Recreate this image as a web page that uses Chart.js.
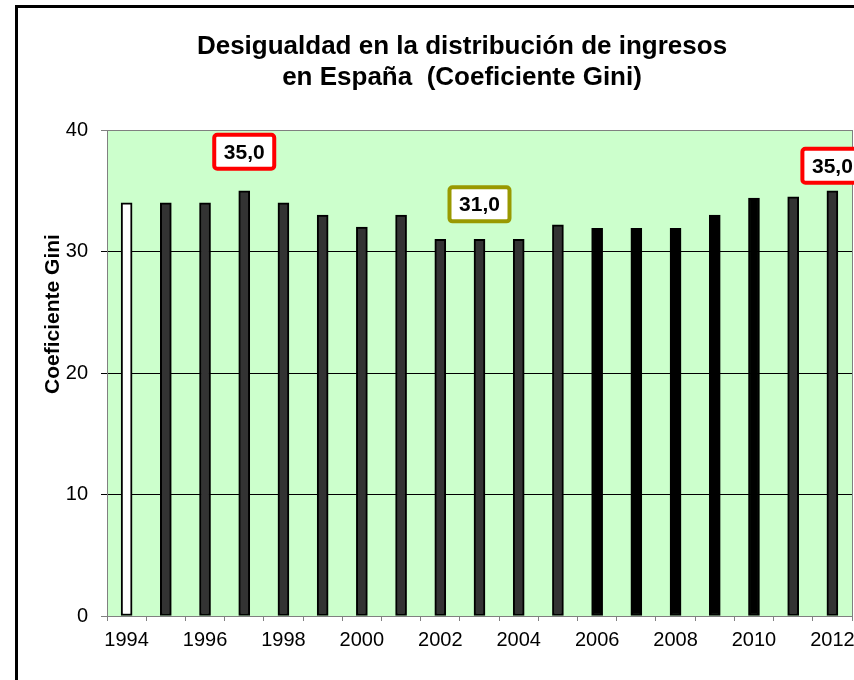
<!DOCTYPE html>
<html>
<head>
<meta charset="utf-8">
<script src="https://cdn.jsdelivr.net/npm/chart.js@4.4.1/dist/chart.umd.min.js"></script>
<style>
    html, body { margin: 0; padding: 0; background: #fff; overflow: hidden; }
    #box { width: 854px; height: 680px; }
</style>
</head>
<body>
<div id="box"><canvas id="giniChart" width="854" height="680"></canvas></div>
<script>
const years = ["1994", "1995", "1996", "1997", "1998", "1999", "2000", "2001", "2002", "2003",
    "2004", "2005", "2006", "2007", "2008", "2009", "2010", "2011", "2012"];
const giniValues = [34.0, 34.0, 34.0, 35.0, 34.0, 33.0, 32.0, 33.0, 31.0, 31.0,
    31.0, 32.2, 31.9, 31.9, 31.9, 33.0, 34.4, 34.5, 35.0];
const yTicks = [0, 10, 20, 30, 40];
const titleLines = ["Desigualdad en la distribución de ingresos", "en España  (Coeficiente Gini)"];
const yTitle = "Coeficiente Gini";

// highlighted values: year, text, border colour, how far above the bar top (px)
const callouts = [
    {year: "1997", text: "35,0", color: "#ff0000", lift: 39},
    {year: "2003", text: "31,0", color: "#999900", lift: 35},
    {year: "2012", text: "35,0", color: "#ff0000", lift: 25},
];

const FONT = "Arial, 'Liberation Sans', sans-serif";

function barColor(year) {
    const y = parseInt(year);
    if (y === 1994) return "#ffffff";
    if (y >= 2006 && y <= 2010) return "#000000";
    return "#333333";
}

const decorations = {
    id: "decorations",
    beforeDraw(chart) {
        const ctx = chart.ctx;
        const area = chart.chartArea;
        ctx.save();
        ctx.fillStyle = "#ccffcc";
        ctx.fillRect(area.left, area.top, area.right - area.left, area.bottom - area.top);
        ctx.restore();
    },
    afterDraw(chart) {
        const ctx = chart.ctx;
        const area = chart.chartArea;
        const x = chart.scales.x;
        const y = chart.scales.y;
        ctx.save();

        // right edge of plot
        ctx.strokeStyle = "#808080";
        ctx.lineWidth = 1;
        ctx.beginPath();
        ctx.moveTo(area.right + 0.5, area.top);
        ctx.lineTo(area.right + 0.5, area.bottom);
        ctx.stroke();

        // outer frame
        ctx.strokeStyle = "#000";
        ctx.lineWidth = 3;
        ctx.strokeRect(16.5, 6.5, 1000, 1000);

        // title
        ctx.fillStyle = "#000";
        ctx.font = "bold 26px " + FONT;
        ctx.textAlign = "center";
        ctx.textBaseline = "alphabetic";
        ctx.fillText(titleLines[0], 462, 54);
        ctx.fillText(titleLines[1], 462, 85);

        // y axis title
        ctx.save();
        ctx.translate(53, 314);
        ctx.rotate(-Math.PI / 2);
        ctx.font = "bold 21px " + FONT;
        ctx.textBaseline = "middle";
        ctx.fillText(yTitle, 0, 0);
        ctx.restore();

        // value boxes
        callouts.forEach(c => {
            const i = years.indexOf(c.year);
            const cx = x.getPixelForValue(i);
            const cy = y.getPixelForValue(giniValues[i]) - c.lift;
            const w = 60, h = 34;
            ctx.beginPath();
            ctx.roundRect(cx - w / 2, cy - h / 2, w, h, 3);
            ctx.fillStyle = "#fff";
            ctx.fill();
            ctx.strokeStyle = c.color;
            ctx.lineWidth = 4;
            ctx.stroke();
            ctx.fillStyle = "#000";
            ctx.font = "bold 21px " + FONT;
            ctx.textAlign = "center";
            ctx.textBaseline = "middle";
            ctx.fillText(c.text, cx, cy + 1);
        });
        ctx.restore();
    }
};

new Chart(document.getElementById("giniChart").getContext("2d"), {
    type: "bar",
    data: {
        labels: years,
        datasets: [
            {
                data: giniValues,
                backgroundColor: years.map(barColor),
                borderColor: "#000",
                borderWidth: 2,
                borderSkipped: false,
                barThickness: 11,
            },
        ],
    },
    options: {
        responsive: false,
        animation: false,
        layout: {padding: {top: 130, right: 2, left: 0, bottom: 0}},
        plugins: {legend: {display: false}, tooltip: {enabled: false}, title: {display: false}},
        scales: {
            x: {
                offset: true,
                grid: {offset: true, drawOnChartArea: false, tickLength: 5, color: "#808080"},
                border: {color: "#808080"},
                ticks: {
                    autoSkip: false,
                    maxRotation: 0,
                    padding: 7,
                    color: "#000",
                    font: {family: FONT, size: 20},
                    callback: (v, i) => (i % 2 === 0 ? years[i] : ""),
                },
                afterFit: s => {
                    s.height = 64;
                    s.paddingLeft = 0;
                    s.paddingRight = 0;
                },
            },
            y: {
                min: 0,
                max: 40,
                afterBuildTicks: s => { s.ticks = yTicks.map(v => ({value: v})); },
                grid: {
                    tickLength: 6,
                    color: c => (c.tick.value > 0 && c.tick.value < 40 ? "#000" : "#808080"),
                },
                border: {color: "#808080"},
                ticks: {
                    padding: 13,
                    color: "#000",
                    font: {family: FONT, size: 20},
                },
                afterFit: s => { s.width = 107; },
            },
        },
    },
    plugins: [decorations],
});
</script>
</body>
</html>
